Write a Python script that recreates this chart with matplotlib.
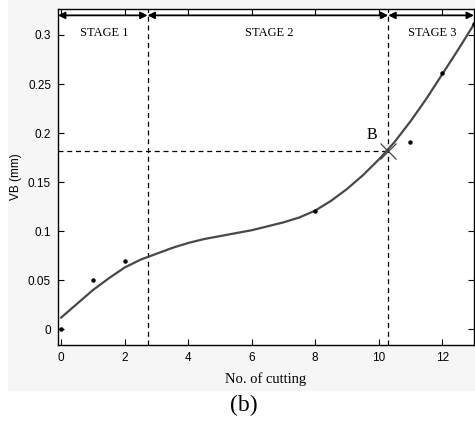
import numpy as np
import matplotlib
matplotlib.use("Agg")
import matplotlib.pyplot as plt
from matplotlib.patches import Rectangle

# measured wear points
cut_no = [0, 1, 2, 8, 11, 12, 13]
vb_meas = [0.0, 0.050, 0.070, 0.121, 0.191, 0.261, 0.311]

# fitted wear curve, every half cut
curve_x = [0, 0.5, 1, 1.5, 2, 2.5, 3, 3.5, 4, 4.5, 5, 5.5, 6, 6.5,
           7, 7.5, 8, 8.5, 9, 9.5, 10, 10.5, 11, 11.5, 12, 12.5, 13]
curve_vb = [0.012, 0.026, 0.040, 0.052, 0.063, 0.071, 0.077, 0.083, 0.088,
            0.092, 0.095, 0.098, 0.101, 0.105, 0.109, 0.114, 0.121, 0.131,
            0.143, 0.157, 0.173, 0.191, 0.212, 0.235, 0.260, 0.285, 0.311]

# stage borders and point B
stage_edges = [-0.1, 2.72, 10.3, 13.0]
stage_names = ["STAGE 1", "STAGE 2", "STAGE 3"]
b_x, b_vb = 10.3, 0.1817

xticks = [0, 2, 4, 6, 8, 10, 12]
yticks = [0, 0.05, 0.1, 0.15, 0.2, 0.25, 0.3]

serif = ["Liberation Serif", "DejaVu Serif"]
sans = ["Liberation Sans", "DejaVu Sans"]

fig = plt.figure(figsize=(4.75, 4.21), dpi=100)
fig.patch.set_facecolor("white")
# light grey panel behind the plot (as in the scanned figure)
fig.patches.append(Rectangle((8 / 475, 1 - 390 / 421), 1, 390 / 421,
                             transform=fig.transFigure, color="#f6f6f6", zorder=-10))

ax = fig.add_axes([58 / 475, 1 - 345 / 421, 416 / 475, 336 / 421])
ax.set_facecolor("white")

ax.plot(curve_x, curve_vb, color="#484848", lw=1.6, zorder=3)
ax.plot(cut_no, vb_meas, "o", color="black", ms=2.2, zorder=4)

ls = (0, (4, 3))
for xe in stage_edges[1:3]:
    ax.axvline(xe, color="black", lw=0.9, ls=ls, zorder=2)
ax.plot([stage_edges[0], b_x], [b_vb, b_vb], color="black", lw=0.9, ls=ls, zorder=2)
ax.plot([b_x], [b_vb], "x", color="#444444", ms=11, mew=0.9, zorder=5)
ax.text(9.8, 0.198, "B", fontsize=11.5, family=serif, ha="center", va="center")

y_arrow = 0.320
for i in range(3):
    ax.annotate("", xy=(stage_edges[i + 1], y_arrow), xytext=(stage_edges[i], y_arrow),
                arrowprops=dict(arrowstyle="<|-|>", color="black", lw=1.3,
                                shrinkA=0, shrinkB=0, mutation_scale=10))
    ax.text((stage_edges[i] + stage_edges[i + 1]) / 2 + 0.05, 0.3025, stage_names[i],
            fontsize=9, family=serif, ha="center", va="center")

ax.set_xlim(-0.1, 13.0)
ax.set_ylim(-0.016, 0.3265)
ax.set_xticks(xticks)
ax.set_yticks(yticks)
ax.set_xticklabels([str(t) for t in xticks])
ax.set_yticklabels(["0", "0.05", "0.1", "0.15", "0.2", "0.25", "0.3"])
ax.tick_params(direction="in", top=True, right=True, length=4, width=0.8,
               labelsize=8.5, pad=5)
for lab in ax.get_xticklabels() + ax.get_yticklabels():
    lab.set_family(sans)
for s in ax.spines.values():
    s.set_linewidth(1.0)

ax.set_ylabel("VB (mm)", fontsize=8.5, family=sans, labelpad=4)
ax.set_xlabel("No. of cutting", fontsize=10.5, family=serif, labelpad=6)
fig.text(244 / 475, 1 - 405 / 421, "(b)", fontsize=17, family=serif,
         ha="center", va="center")

fig.savefig("out.png", dpi=100)
